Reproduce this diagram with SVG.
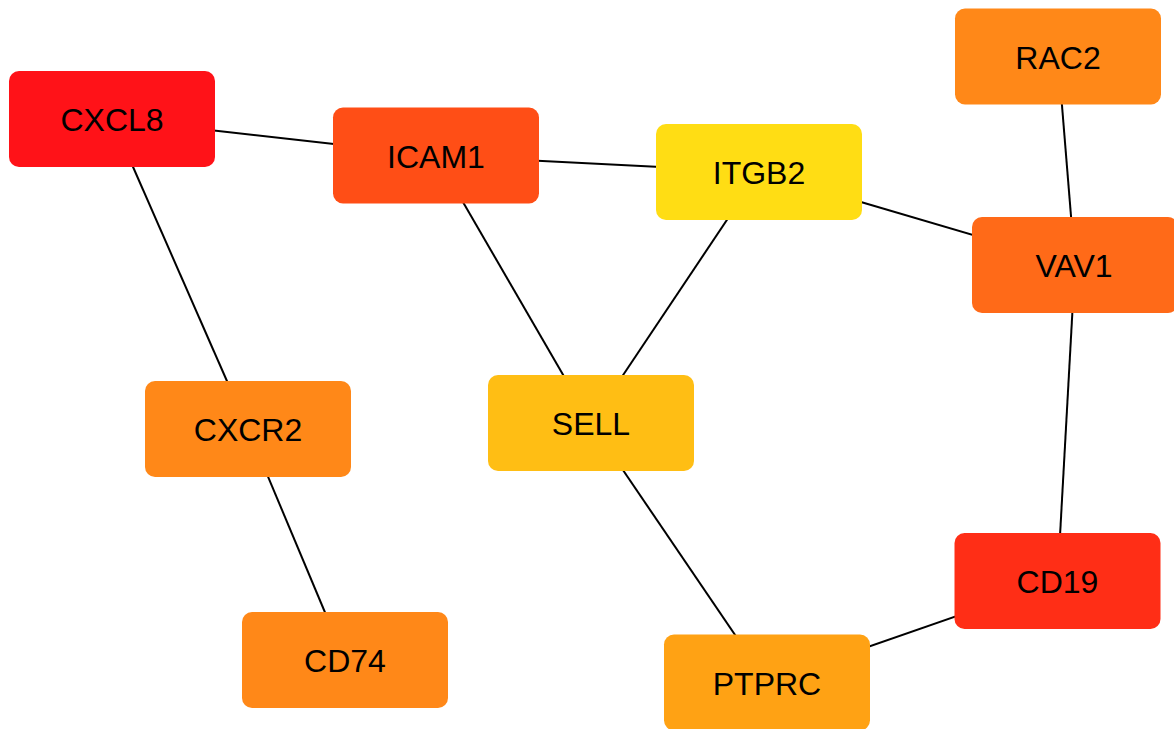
<svg xmlns="http://www.w3.org/2000/svg" width="1174" height="729" viewBox="0 0 1174 729">
<style>
.edge{stroke:#000;stroke-width:2;fill:none}
.box{rx:10;ry:10}
.lbl{font-family:"Liberation Sans",Arial,sans-serif;font-size:32px;fill:#000;text-anchor:middle}
</style>
<rect width="1174" height="729" fill="#fff"/>
<g id="edges">
<line class="edge" x1="112" y1="119" x2="436" y2="155.5"/>
<line class="edge" x1="436" y1="155.5" x2="759" y2="172"/>
<line class="edge" x1="759" y1="172" x2="1075" y2="265"/>
<line class="edge" x1="1058" y1="56.5" x2="1075" y2="265"/>
<line class="edge" x1="1075" y1="265" x2="1057.5" y2="581"/>
<line class="edge" x1="1057.5" y1="581" x2="767" y2="682"/>
<line class="edge" x1="591" y1="423" x2="767" y2="682"/>
<line class="edge" x1="436" y1="155.5" x2="591" y2="423"/>
<line class="edge" x1="759" y1="172" x2="591" y2="423"/>
<line class="edge" x1="112" y1="119" x2="248" y2="429"/>
<line class="edge" x1="248" y1="429" x2="345" y2="660"/>
</g>
<g id="CXCL8"><rect class="box" x="9" y="71" width="206" height="96" fill="#FF1218"/><text class="lbl" x="112" y="131">CXCL8</text></g>
<g id="ICAM1"><rect class="box" x="333" y="107.5" width="206" height="96" fill="#FF4E16"/><text class="lbl" x="436" y="167.5">ICAM1</text></g>
<g id="ITGB2"><rect class="box" x="656" y="124" width="206" height="96" fill="#FFDD14"/><text class="lbl" x="759" y="184">ITGB2</text></g>
<g id="RAC2"><rect class="box" x="955" y="8.5" width="206" height="96" fill="#FF8818"/><text class="lbl" x="1058" y="68.5">RAC2</text></g>
<g id="VAV1"><rect class="box" x="972" y="217" width="206" height="96" fill="#FF6A18"/><text class="lbl" x="1074" y="277">VAV1</text></g>
<g id="SELL"><rect class="box" x="488" y="375" width="206" height="96" fill="#FFBE14"/><text class="lbl" x="591" y="435">SELL</text></g>
<g id="CXCR2"><rect class="box" x="145" y="381" width="206" height="96" fill="#FF8818"/><text class="lbl" x="248" y="441">CXCR2</text></g>
<g id="CD19"><rect class="box" x="954.5" y="533" width="206" height="96" fill="#FF2E16"/><text class="lbl" x="1057.5" y="593">CD19</text></g>
<g id="CD74"><rect class="box" x="242" y="612" width="206" height="96" fill="#FF8818"/><text class="lbl" x="345" y="672">CD74</text></g>
<g id="PTPRC"><rect class="box" x="664" y="634.5" width="206" height="96" fill="#FFA214"/><text class="lbl" x="767" y="694.5">PTPRC</text></g>
</svg>
